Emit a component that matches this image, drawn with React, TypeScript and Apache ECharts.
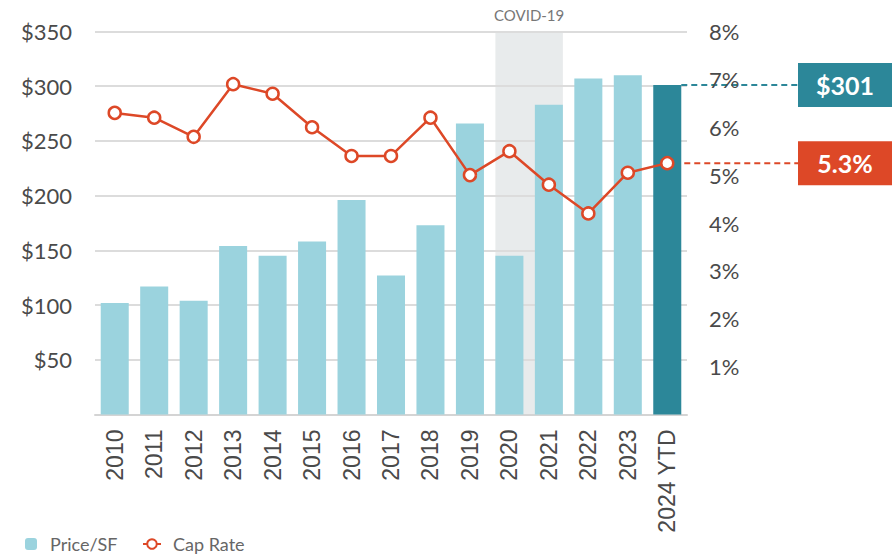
import React, { useEffect, useRef } from "react";
import * as echarts from "echarts";

const categories = ["2010", "2011", "2012", "2013", "2014", "2015", "2016", "2017", "2018", "2019", "2020", "2021", "2022", "2023", "2024 YTD"];
const pricePerSF = [102, 117, 104, 154, 145, 158, 196, 127, 173, 266, 145, 283, 307, 310, 301];
const capRate = [6.3, 6.2, 5.8, 6.9, 6.7, 6.0, 5.4, 5.4, 6.2, 5.0, 5.5, 4.8, 4.2, 5.05, 5.25];
const priceAxis = { min: 0, max: 350, interval: 50 };
const rateAxis = { min: 0, max: 8, interval: 1 };
const covidYears = ["2020", "2021"];
const covidLabel = "COVID-19";
const seriesNames = ["Price/SF", "Cap Rate"];

const LIGHT = "#9bd3de";
const DARK = "#2c8799";
const RED = "#dd4827";
const LABEL = "#4a4a4a";
const GRID = "#dcdcdc";

export default function App() {
  const ref = useRef<HTMLDivElement>(null);
  useEffect(() => {
    const chart = echarts.init(ref.current!, null, { renderer: "svg" });
    const last = categories.length - 1;
    const barPct = 0.71;
    chart.setOption({
      animation: false,
      grid: { left: 95, right: 209, top: 31.5, bottom: 143.5 },
      legend: [
        {
          data: [seriesNames[0]],
          left: 25,
          top: 535,
          padding: 0,
          itemWidth: 12,
          itemHeight: 12,
          textStyle: { fontFamily: "Lato", fontSize: 18, color: "#666", padding: [0, 0, 0, 8] },
        },
        {
          data: [seriesNames[1]],
          left: 142,
          top: 535,
          padding: 0,
          itemWidth: 18,
          itemHeight: 12,
          textStyle: { fontFamily: "Lato", fontSize: 18, color: "#666", padding: [0, 0, 0, 7] },
        },
      ],
      xAxis: {
        type: "category",
        data: categories,
        axisTick: { show: false },
        axisLine: { lineStyle: { color: "#d4d4d4", width: 2 } },
        axisLabel: { rotate: 90, fontFamily: "Liberation Sans", fontSize: 23, color: LABEL, margin: 15 },
      },
      yAxis: [
        {
          type: "value",
          ...priceAxis,
          axisLine: { show: false },
          axisTick: { show: false },
          splitLine: { lineStyle: { color: GRID, width: 2 } },
          axisLabel: {
            fontFamily: "Lato",
            fontSize: 22,
            color: LABEL,
            margin: 23,
            formatter: (v: number) => (v === 0 ? "" : "$" + v),
          },
        },
        {
          type: "value",
          ...rateAxis,
          axisLine: { show: false },
          axisTick: { show: false },
          splitLine: { show: false },
          axisLabel: {
            fontFamily: "Lato",
            fontSize: 22,
            color: LABEL,
            margin: 22,
            formatter: (v: number) => (v === 0 ? "" : v + "%"),
          },
        },
      ],
      series: [
        {
          name: seriesNames[0],
          type: "bar",
          barWidth: barPct * 100 + "%",
          itemStyle: { color: LIGHT },
          data: pricePerSF.map((v, i) => (i === last ? { value: v, itemStyle: { color: DARK } } : v)),
          z: 2,
        },
        {
          name: seriesNames[1],
          type: "line",
          yAxisIndex: 1,
          data: capRate,
          symbol: "circle",
          symbolSize: 12,
          itemStyle: { color: "#fff", borderColor: RED, borderWidth: 2.5 },
          lineStyle: { color: RED, width: 2.5 },
          z: 3,
        },
      ],
    });

    const x0 = chart.convertToPixel({ xAxisIndex: 0 }, covidYears[0]) as number;
    const x1 = chart.convertToPixel({ xAxisIndex: 0 }, covidYears[1]) as number;
    const band = x1 - x0;
    const bw = band * barPct;
    const yTop = chart.convertToPixel({ yAxisIndex: 0 }, priceAxis.max) as number;
    const yBot = chart.convertToPixel({ yAxisIndex: 0 }, priceAxis.min) as number;
    const xLast = chart.convertToPixel({ xAxisIndex: 0 }, categories[last]) as number;
    const yPrice = chart.convertToPixel({ yAxisIndex: 0 }, pricePerSF[last]) as number;
    const yRate = chart.convertToPixel({ yAxisIndex: 1 }, capRate[last]) as number;
    const boxX = 798;
    const boxW = 94;
    const boxH = 44;

    chart.setOption({
      graphic: [
        {
          type: "rect",
          z: -10,
          silent: true,
          shape: { x: x0 - bw / 2, y: yTop + 1, width: x1 - x0 + bw, height: yBot - yTop - 1 },
          style: { fill: "#e8ebec" },
        },
        {
          type: "text",
          x: (x0 - bw / 2 + x1 + bw / 2) / 2,
          y: 15,
          style: {
            text: covidLabel,
            fill: "#777",
            font: "15px Lato",
            textAlign: "center",
            textVerticalAlign: "middle",
          },
        },
        {
          type: "line",
          shape: { x1: xLast + bw / 2, y1: yPrice, x2: boxX, y2: yPrice },
          style: { stroke: DARK, lineWidth: 2, lineDash: [6, 4] },
        },
        {
          type: "line",
          shape: { x1: xLast + 7, y1: yRate, x2: boxX, y2: yRate },
          style: { stroke: RED, lineWidth: 2, lineDash: [6, 4] },
        },
        {
          type: "rect",
          shape: { x: boxX, y: yPrice - boxH / 2, width: boxW, height: boxH },
          style: { fill: DARK },
        },
        {
          type: "text",
          x: boxX + boxW / 2,
          y: yPrice,
          style: {
            text: "$" + pricePerSF[last],
            fill: "#fff",
            font: "bold 25px Lato",
            textAlign: "center",
            textVerticalAlign: "middle",
          },
        },
        {
          type: "rect",
          shape: { x: boxX, y: yRate - boxH / 2, width: boxW, height: boxH },
          style: { fill: RED },
        },
        {
          type: "text",
          x: boxX + boxW / 2,
          y: yRate,
          style: {
            text: capRate[last].toFixed(1) + "%",
            fill: "#fff",
            font: "bold 25px Lato",
            textAlign: "center",
            textVerticalAlign: "middle",
          },
        },
      ],
    });

    return () => chart.dispose();
  }, []);
  return (
    <div
      ref={ref}
      style={{ position: "fixed", left: 0, top: 0, width: 896, height: 558, background: "#fff" }}
    />
  );
}
